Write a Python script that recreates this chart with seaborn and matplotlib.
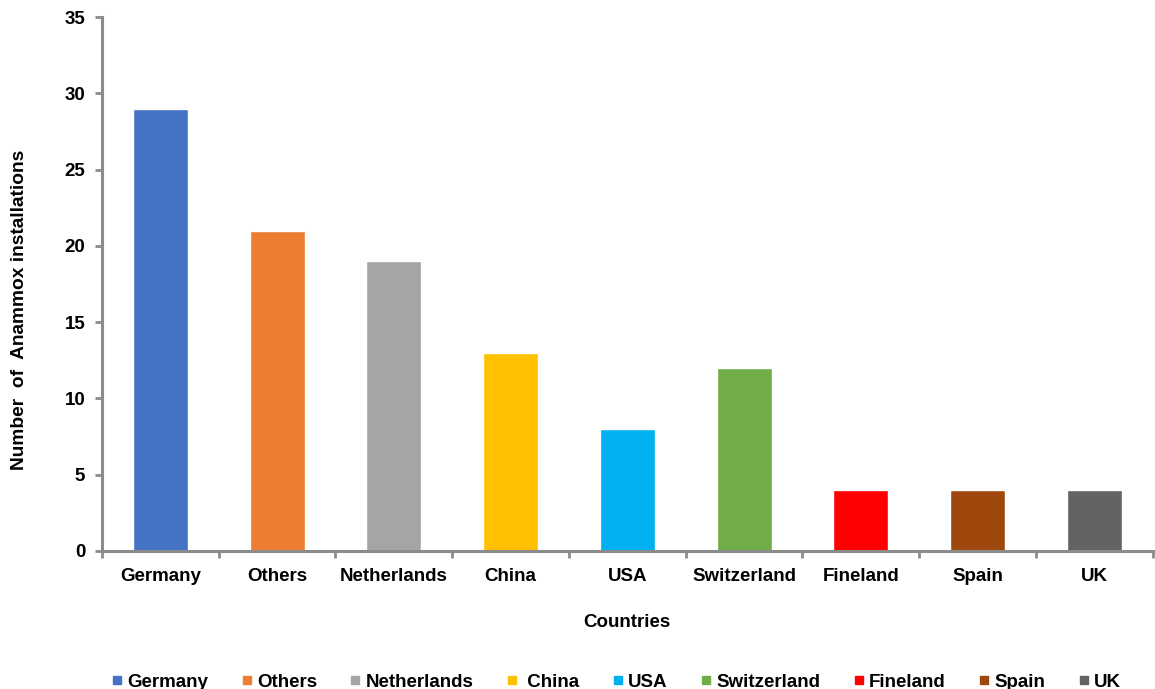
import matplotlib
matplotlib.use("Agg")
import matplotlib.pyplot as plt
from matplotlib.lines import Line2D
from matplotlib.ticker import FixedLocator
import seaborn as sns
import pandas as pd

countries = ["Germany", "Others", "Netherlands", "China", "USA",
             "Switzerland", "Fineland", "Spain", "UK"]
installations = [29, 21, 19, 13, 8, 12, 4, 4, 4]
colors = ["#4472C4", "#ED7D31", "#A5A5A5", "#FFC000", "#00B0F0",
          "#70AD47", "#FF0000", "#9E480E", "#636363"]
legend_labels = ["Germany", "Others", "Netherlands", " China", "USA",
                 "Switzerland", "Fineland", "Spain", "UK"]

sns.set_theme(style="white")
plt.rcParams["font.family"] = ["Liberation Sans", "DejaVu Sans"]
plt.rcParams["font.weight"] = "bold"
plt.rcParams["text.color"] = "black"

df = pd.DataFrame({"country": countries, "count": installations})

fig = plt.figure(figsize=(11.55, 6.89), dpi=100)
ax = fig.add_axes([0.0883, 0.2003, 0.9097, 0.775])

sns.barplot(data=df, x="country", y="count", hue="country",
            palette=colors, width=0.47, legend=False, saturation=1, ax=ax)

axis_gray = "#8C8C8C"
ax.set_xlim(-0.5, len(countries) - 0.5)
ax.set_ylim(0, 35)
ax.set_yticks(range(0, 36, 5))
for side in ["top", "right"]:
    ax.spines[side].set_visible(False)
for side in ["left", "bottom"]:
    ax.spines[side].set_color(axis_gray)
    ax.spines[side].set_linewidth(2.2)

# category labels centred, tick marks on the boundaries between categories
ax.tick_params(axis="x", which="major", length=0, pad=12, labelsize=13.5)
ax.xaxis.set_minor_locator(FixedLocator([i - 0.5 for i in range(len(countries) + 1)]))
ax.tick_params(axis="x", which="minor", bottom=True, length=5, width=2, color=axis_gray)
ax.tick_params(axis="y", left=True, length=5, width=2, color=axis_gray, labelsize=13.5, pad=7)
for lab in ax.get_xticklabels() + ax.get_yticklabels():
    lab.set_fontweight("bold")
    lab.set_color("black")

ax.set_xlabel("Countries", fontsize=13.5, fontweight="bold", labelpad=21, color="black")
ax.set_ylabel("Number  of  Anammox installations", fontsize=13.8, fontweight="bold",
              labelpad=22, color="black")
ax.yaxis.set_label_coords(-0.07, 0.451)

handles = [Line2D([0], [0], marker="s", linestyle="none", markersize=6,
                  markerfacecolor=c, markeredgecolor=c) for c in colors]
leg = fig.legend(handles, legend_labels, loc="lower center", bbox_to_anchor=(0.532, -0.027),
                 ncol=len(countries), frameon=False, handletextpad=0.05, handlelength=1.0,
                 columnspacing=1.55, prop={"size": 13.5, "weight": "bold"})
for t in leg.get_texts():
    t.set_color("black")

fig.savefig("out.png", dpi=100)
